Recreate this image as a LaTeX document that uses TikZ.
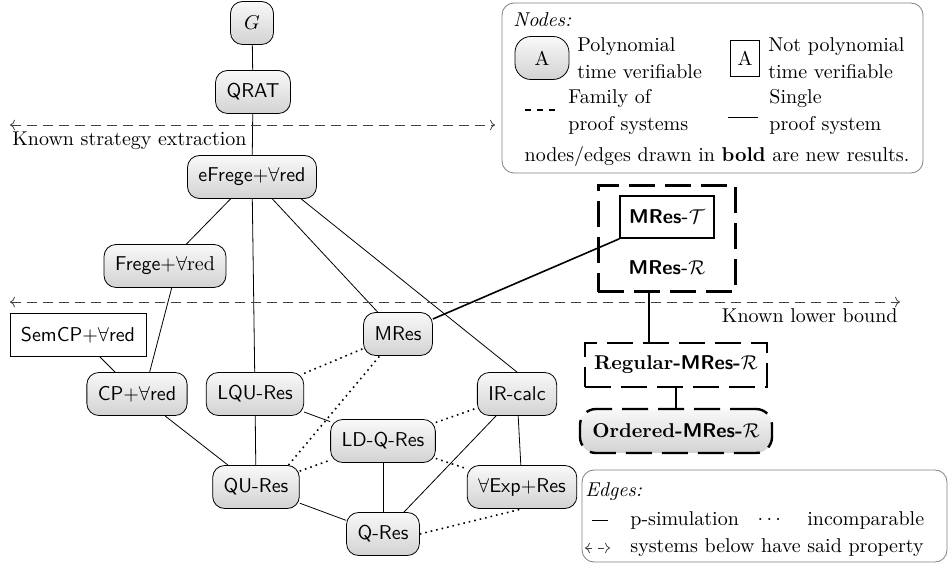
\documentclass[tikz,border=0pt]{standalone}
\usepackage{amsmath}
\usepackage{amssymb}
\usepackage{tikz}
\usepackage{xcolor}
\usetikzlibrary{arrows.meta}
\usetikzlibrary{fit}

\tikzset{
  psys/.style={draw, rounded corners=6pt, top color=gray!5, bottom color=gray!35, minimum height=21.5pt, minimum width=21.5pt, inner xsep=5.5pt, font=\sffamily},
  npsys/.style={draw, minimum height=21.5pt, inner xsep=5.5pt, font=\sffamily},
  famsys/.style={draw, very thick, dash pattern=on 13pt off 5pt, minimum height=22pt},
  propline/.style={<->, black!75, dash pattern=on 5pt off 3pt},
  incomp/.style={thick, dotted},
  newedge/.style={thick},
  legendbox/.style={draw=black!50, rounded corners=6pt},
  legtext/.style={anchor=west, inner sep=0pt, align=left},
}

\begin{document}
\begin{tikzpicture}[x=0.5pt, y=-0.5pt]
    \useasboundingbox (0,0) rectangle (948,566);

    \draw[legendbox] (502,3) rectangle (923,173);
    \draw[legendbox] (582,470) rectangle (947,562);

    \node[legtext] (nodeshead) at (513,20) {\textit{Nodes:}};
    \node[psys, minimum width=27pt, rounded corners=8pt, font=\rmfamily] (legpoly) at (542,58) {A};
    \node[legtext] (legpolytxt) at (577,58) {Polynomial\\[1.5pt]time verifiable};
    \node[draw, minimum height=18pt] (legnpoly) at (745,58) {A};
    \node[legtext] (legnpolytxt) at (768,58) {Not polynomial\\[1.5pt]time verifiable};
    \draw[very thick, dashed] (525,110) -- (555,110);
    \node[legtext] (legfamtxt) at (568,112) {Family of\\[1.5pt]proof systems};
    \draw (728,117) -- (758,117);
    \node[legtext] (legsingtxt) at (769,112) {Single\\[1.5pt]proof system};
    \node[inner sep=0pt] (legbold) at (717,157) {nodes/edges drawn in \textbf{bold} are new results.};

    \node[legtext] (edgeshead) at (585,492) {\textit{Edges:}};
    \draw (592,520) -- (608,520);
    \node[legtext] (legpsim) at (630,520) {p-simulation};
    \node[inner sep=0pt] (legdots) at (771,520) {$\cdots$};
    \node[legtext] (legincomp) at (807,520) {incomparable};
    \draw[<->, black!75, dashed] (585,548) -- (610,548);
    \node[legtext] (legprop) at (630,548) {systems below have said property};

    \node[psys] (G) at (252,23) {$G$};
    \node[psys] (QRAT) at (253,92) {QRAT};
    \node[psys] (eFrege) at (252,177) {eFrege$+\forall$red};
    \node[psys] (Frege) at (165,266) {Frege$+\forall$\textrm{red}};
    \node[npsys] (SemCP) at (78,335) {SemCP$+\forall$red};
    \node[psys] (MRes) at (398,334) {MRes};
    \node[psys] (CP) at (137,394) {CP$+\forall$red};
    \node[psys] (LQU) at (255,394) {LQU-Res};
    \node[psys] (IRcalc) at (517,394) {IR-calc};
    \node[psys] (LDQ) at (383,441) {LD-Q-Res};
    \node[psys] (QU) at (256,487) {QU-Res};
    \node[psys] (AExp) at (522,487) {$\forall$Exp$+$Res};
    \node[psys] (QRes) at (383,534) {Q-Res};

    \node[draw, thick, inner xsep=4.5pt, minimum height=21pt, font=\sffamily\bfseries] (MRT) at (667,217) {MRes-$\mathcal{T}$};
    \node[font=\sffamily\bfseries] (MRR) at (667,268) {MRes-$\mathcal{R}$};
    \node[famsys, fit=(MRT)(MRR), inner xsep=10.5pt, inner ysep=4.75pt] (MRfam) {};
    \node[famsys, font=\rmfamily, minimum width=91pt] (Reg) at (676,365) {\textbf{Regular-\textsf{MRes}-}$\mathcal{R}$};
    \node[psys, famsys, rounded corners=8pt, font=\rmfamily, minimum width=96pt] (Ord) at (676,431) {\textbf{Ordered-\textsf{MRes}-}$\mathcal{R}$};

    \draw (G) -- (QRAT);
    \draw (QRAT) -- (eFrege);
    \draw (eFrege) -- (Frege);
    \draw (eFrege) -- (LQU);
    \draw (eFrege) -- (MRes);
    \draw (eFrege.-24) -- (IRcalc.north);
    \draw (Frege.-73) -- (CP.60);
    \draw (SemCP) -- (CP);
    \draw (CP) -- (QU);
    \draw (LQU) -- (QU);
    \draw (LQU) -- (LDQ);
    \draw (LDQ) -- (QRes);
    \draw (QU) -- (QRes);
    \draw (IRcalc) -- (QRes);
    \draw (IRcalc) -- (AExp);

    \draw[incomp] (LQU) -- (MRes);
    \draw[incomp] (QU.34) -- (MRes);
    \draw[incomp] (QU) -- (LDQ);
    \draw[incomp] (LDQ) -- (IRcalc);
    \draw[incomp] (LDQ) -- (AExp);
    \draw[incomp] (QRes.east) -- (AExp.south);

    \coordinate (famfoot) at ([xshift=-9pt]MRfam.south);
    \draw[newedge] (MRes) -- (MRT.south west);
    \draw[newedge] (famfoot) -- (famfoot |- Reg.north);
    \draw[newedge] (Reg) -- (Ord);

    \coordinate (seL) at (10,125);
    \coordinate (seR) at (495,125);
    \draw[propline] (seL) -- (seR);
    \node[anchor=north west, inner xsep=1pt] (selabel) at (seL) {Known strategy extraction};
    \coordinate (lbL) at (10,302);
    \coordinate (lbR) at (900,302);
    \draw[propline] (lbL) -- (lbR);
    \node[anchor=north east, inner xsep=1pt] (lblabel) at (lbR) {Known lower bound};
\end{tikzpicture}
\end{document}
